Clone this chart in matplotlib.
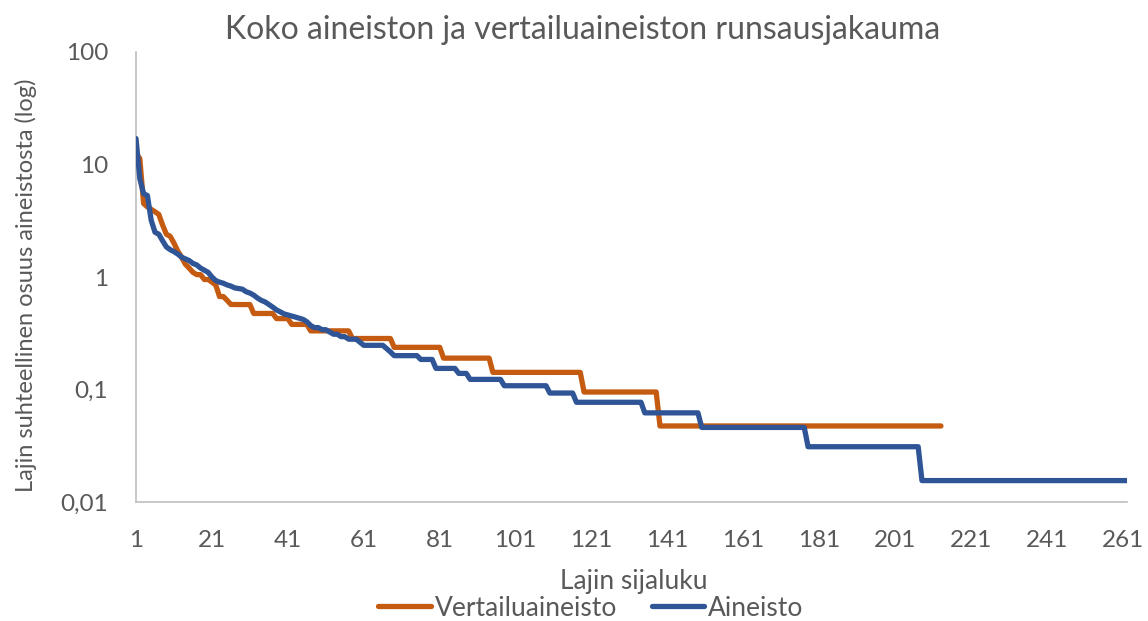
import numpy as np
import matplotlib
matplotlib.use("Agg")
import matplotlib.pyplot as plt
from matplotlib.ticker import FixedLocator, FixedFormatter, NullLocator

# ---- data ----
# Vertailuaineisto: first ranks individually, then tied runs (value, run length)
orange_head = [12.5, 11.3, 4.5, 4.2, 4.0, 3.8, 3.6, 2.9, 2.4, 2.3, 2.0, 1.7, 1.5,
               1.3, 1.2, 1.1, 1.05, 1.05, 0.95, 0.95, 0.9, 0.85, 0.67, 0.67, 0.62, 0.57]
orange_run_values = [0.569, 0.474, 0.427, 0.379, 0.332, 0.284, 0.237, 0.19, 0.142, 0.095, 0.0474]
orange_run_lengths = [5, 6, 4, 5, 11, 11, 13, 13, 24, 20, 75]

# Aineisto
blue_head = [17.0, 7.5, 5.5, 5.3, 3.2, 2.5, 2.4, 2.1, 1.85, 1.75, 1.68, 1.6, 1.5, 1.45,
             1.4, 1.32, 1.28, 1.2, 1.15, 1.1, 1.0, 0.93, 0.9, 0.88, 0.85, 0.83, 0.8,
             0.79, 0.78, 0.74, 0.72, 0.69, 0.65, 0.62, 0.6, 0.57, 0.54, 0.51, 0.49,
             0.47, 0.46, 0.45, 0.44, 0.43, 0.42, 0.40, 0.37, 0.355, 0.355, 0.34, 0.34,
             0.325, 0.31, 0.31, 0.295, 0.295, 0.28, 0.28, 0.28, 0.263]
blue_run_values = [0.247, 0.231, 0.216, 0.2, 0.185, 0.154, 0.139, 0.123, 0.108, 0.093,
                   0.077, 0.062, 0.046, 0.031, 0.0155]
blue_run_lengths = [6, 1, 1, 7, 4, 6, 3, 9, 12, 7, 18, 15, 28, 30, 55]

series_names = ["Vertailuaineisto", "Aineisto"]
x_ticks = list(range(1, 262, 20))
y_ticks = [0.01, 0.1, 1, 10, 100]
y_tick_labels = ["0,01", "0,1", "1", "10", "100"]

orange = np.concatenate([orange_head, np.repeat(orange_run_values, orange_run_lengths)])
blue = np.concatenate([blue_head, np.repeat(blue_run_values, blue_run_lengths)])
x_orange = np.arange(1, len(orange) + 1)
x_blue = np.arange(1, len(blue) + 1)

# ---- styling ----
plt.rcParams['font.family'] = ['Lato', 'DejaVu Sans']
txt = '#595959'
W, H = 1148, 621
L, R, T, B = 136, 1127, 52, 502
fig = plt.figure(figsize=(W / 100, H / 100), dpi=100)
ax = fig.add_axes([L / W, 1 - B / H, (R - L) / W, (B - T) / H])

ax.plot(x_orange, orange, color='#C55A11', lw=3.8, solid_joinstyle='round',
        solid_capstyle='round', label=series_names[0], zorder=2)
ax.plot(x_blue, blue, color='#2F5597', lw=3.8, solid_joinstyle='round',
        solid_capstyle='round', label=series_names[1], zorder=3)

ax.set_yscale('log')
ax.set_ylim(0.01, 100)
ax.set_xlim(1, len(blue))
ax.yaxis.set_major_locator(FixedLocator(y_ticks))
ax.yaxis.set_major_formatter(FixedFormatter(y_tick_labels))
ax.yaxis.set_minor_locator(NullLocator())
ax.set_xticks(x_ticks)
ax.set_xticklabels([str(t) for t in x_ticks])
ax.tick_params(axis='both', length=0, labelsize=17.5, colors=txt)
ax.tick_params(axis='x', pad=20)
ax.tick_params(axis='y', pad=20)

for s in ['top', 'right']:
    ax.spines[s].set_visible(False)
for s in ['left', 'bottom']:
    ax.spines[s].set_color('#BFBFBF')
    ax.spines[s].set_linewidth(1.2)
ax.spines['left'].set_zorder(1)

ax.set_xlabel('Lajin sijaluku', fontsize=19, color=txt, va='center', ha='center')
ax.xaxis.set_label_coords((634 - L) / (R - L), (B - 582) / (B - T))
ax.set_ylabel('Lajin suhteellinen osuus aineistosta (log)', fontsize=17, color=txt,
              va='center', ha='center')
ax.yaxis.set_label_coords((26 - L) / (R - L), (B - 285) / (B - T))

fig.text(583 / W, 1 - 30 / H, 'Koko aineiston ja vertailuaineiston runsausjakauma',
         ha='center', va='center', fontsize=23, color=txt)

leg = fig.legend(loc='center', bbox_to_anchor=(591 / W, 1 - 608 / H), ncol=2,
                 frameon=False, fontsize=19, handlelength=2.0, handletextpad=0.15,
                 columnspacing=1.3, borderpad=0)
for t in leg.get_texts():
    t.set_color(txt)

fig.savefig('out.png', dpi=100)
